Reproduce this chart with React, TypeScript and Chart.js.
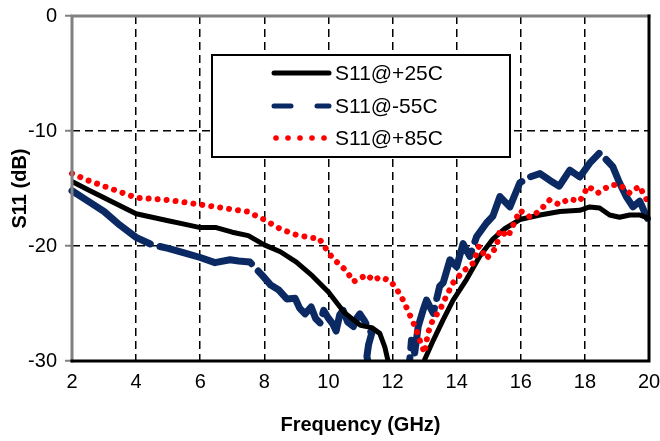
import React, { useEffect, useRef } from 'react';
import { Chart, registerables } from 'chart.js';

Chart.register(...registerables);

// ---- data ----
const seriesLabels = ['S11@+25C', 'S11@-55C', 'S11@+85C'];
const xTickStep = 2;
const yTickStep = 10;
const xRange = [2, 20];
const yRange = [-30, 0];
const xTitle = 'Frequency (GHz)';
const yTitle = 'S11 (dB)';

const freq25 = [2, 2.5, 3, 3.5, 4, 4.5, 5, 5.5, 6, 6.5, 7, 7.5, 8, 8.5, 9, 9.5, 10, 10.5, 11, 11.35, 11.6, 11.76, 11.86, 12.0, 12.9, 13.0, 13.27, 13.58, 13.89, 14.31, 14.72, 15.13, 15.5, 15.97, 16.6, 17.22, 17.84, 18.15, 18.46, 18.77, 19.08, 19.4, 19.7, 20];
const s11At25 = [-14.4, -15.1, -15.8, -16.5, -17.2, -17.5, -17.8, -18.1, -18.4, -18.4, -18.8, -19.1, -19.9, -20.5, -21.4, -22.6, -24.0, -25.8, -26.9, -27.1, -27.6, -28.8, -30.0, -32, -32, -29.9, -28.2, -26.4, -24.7, -22.9, -20.9, -19.4, -18.5, -17.7, -17.3, -17.0, -16.9, -16.6, -16.7, -17.3, -17.5, -17.3, -17.3, -17.6];

const freq55 = [2, 2.5, 3, 3.5, 4, 4.5, 5, 5.5, 6, 6.46, 6.93, 7.2, 7.55, 7.95, 8.2, 8.44, 8.7, 8.96, 9.1, 9.27, 9.46, 9.6, 9.74, 9.85, 9.98, 10.14, 10.24, 10.35, 10.46, 10.6, 10.78, 10.9, 10.98, 11.1, 11.35, 11.25, 11.2, 11.3, 12.5, 12.59, 12.69, 12.8, 12.95, 13.06, 13.27, 13.47, 13.58, 13.79, 14.0, 14.2, 14.41, 14.62, 14.93, 15.13, 15.35, 15.66, 15.97, 16.28, 16.6, 16.91, 17.2, 17.53, 17.84, 18.15, 18.46, 18.67, 18.87, 19.08, 19.29, 19.5, 19.71, 19.95];
const s11At55 = [-15.2, -16.1, -17.0, -18.2, -19.25, -19.9, -20.2, -20.6, -21.0, -21.45, -21.2, -21.3, -21.4, -22.6, -23.4, -23.8, -24.6, -24.55, -25.4, -25.9, -25.3, -26.3, -26.7, -25.6, -26.2, -26.8, -27.4, -26.0, -25.6, -26.6, -27.0, -26.2, -25.9, -26.4, -27.6, -28.6, -29.6, -31, -31, -28.2, -29.3, -27.0, -25.6, -24.7, -25.85, -23.5, -23.2, -21.2, -21.8, -19.8, -20.9, -19.2, -18.0, -17.4, -15.7, -16.6, -14.5, -14.0, -13.7, -14.3, -14.8, -13.4, -14.0, -12.8, -11.9, -12.5, -13.1, -14.5, -15.7, -16.6, -16.1, -17.6];

const freq85 = [2, 2.5, 3, 3.5, 4, 4.5, 5, 5.5, 6, 6.5, 6.96, 7.46, 7.99, 8.49, 8.96, 9.46, 9.7, 9.89, 10.14, 10.35, 10.57, 10.78, 11.0, 11.2, 11.4, 11.6, 11.92, 12.12, 12.33, 12.54, 12.7, 12.85, 13.0, 13.1, 13.26, 13.47, 13.67, 13.89, 14.2, 14.51, 14.7, 14.93, 15.24, 15.35, 15.6, 15.97, 16.3, 16.6, 16.9, 17.2, 17.5, 17.84, 18.1, 18.4, 18.8, 19.1, 19.4, 19.7, 19.95];
const s11At85 = [-13.7, -14.3, -14.8, -15.3, -15.8, -15.9, -16.0, -16.2, -16.4, -16.6, -16.8, -17.0, -17.7, -18.5, -19.0, -19.3, -19.3, -20.1, -21.1, -21.6, -22.2, -23.1, -22.8, -22.5, -23.0, -22.7, -23.0, -23.7, -24.7, -26.0, -27.0, -28.2, -29.3, -27.6, -26.4, -25.6, -24.4, -23.2, -22.2, -21.5, -20.0, -21.1, -20.1, -18.6, -19.2, -16.9, -17.5, -16.9, -16.0, -16.4, -15.9, -16.1, -14.8, -15.4, -14.7, -14.7, -15.4, -14.8, -16.1];

const FONT = '"Liberation Sans", Arial, sans-serif';
const BLACK = '#000000';
const NAVY = '#0b2a63';
const RED = '#ff0000';

const toPoints = (xs: number[], ys: number[]) => xs.map((x, i) => ({ x, y: ys[i] }));

const framePlugin = {
  id: 'frame',
  afterDatasetsDraw(chart: any) {
    const { ctx, chartArea } = chart;
    const { left, right, top, bottom } = chartArea;
    ctx.save();
    ctx.lineWidth = 3;
    ctx.lineCap = 'square';
    ctx.strokeStyle = '#808080';
    ctx.beginPath();
    ctx.moveTo(left, bottom);
    ctx.lineTo(left, top);
    ctx.lineTo(right, top);
    ctx.stroke();
    ctx.strokeStyle = BLACK;
    ctx.beginPath();
    ctx.moveTo(left, bottom);
    ctx.lineTo(right, bottom);
    ctx.lineTo(right, top);
    ctx.stroke();
    ctx.restore();
  },
};

const legendPlugin = {
  id: 'boxLegend',
  afterDraw(chart: any) {
    const { ctx, chartArea } = chart;
    const x0 = chartArea.left + 140;
    const y0 = chartArea.top + 39;
    const w = 298;
    const h = 102;
    ctx.save();
    ctx.fillStyle = '#ffffff';
    ctx.fillRect(x0, y0, w, h);
    ctx.lineWidth = 2;
    ctx.strokeStyle = BLACK;
    ctx.strokeRect(x0, y0, w, h);
    const sx0 = x0 + 62;
    const sx1 = x0 + 117;
    const rows = [y0 + 18, y0 + 51, y0 + 83];
    ctx.lineCap = 'round';
    ctx.strokeStyle = BLACK;
    ctx.lineWidth = 5;
    ctx.beginPath();
    ctx.moveTo(sx0, rows[0]);
    ctx.lineTo(sx1, rows[0]);
    ctx.stroke();
    ctx.strokeStyle = NAVY;
    ctx.lineWidth = 5;
    ctx.setLineDash([17, 26]);
    ctx.beginPath();
    ctx.moveTo(sx0, rows[1]);
    ctx.lineTo(sx1, rows[1]);
    ctx.stroke();
    ctx.setLineDash([]);
    ctx.fillStyle = RED;
    for (let i = 0; i < 5; i++) {
      ctx.beginPath();
      ctx.arc(sx0 + 2 + i * 12, rows[2], 2.8, 0, Math.PI * 2);
      ctx.fill();
    }
    ctx.fillStyle = BLACK;
    ctx.font = `21px ${FONT}`;
    ctx.textBaseline = 'middle';
    ctx.textAlign = 'left';
    seriesLabels.forEach((t, i) => ctx.fillText(t, x0 + 123, rows[i] + 1));
    ctx.restore();
  },
};

export default function App() {
  const ref = useRef<HTMLCanvasElement>(null);
  useEffect(() => {
    if (!ref.current) return;
    const clip = { left: 4, top: 4, right: 4, bottom: 0 };
    const chart = new Chart(ref.current, {
      type: 'line',
      data: {
        datasets: [
          {
            label: seriesLabels[0],
            data: toPoints(freq25, s11At25),
            borderColor: BLACK,
            borderWidth: 5,
            pointRadius: 0,
            tension: 0,
            borderJoinStyle: 'round',
            order: 1,
            clip,
          } as any,
          {
            label: seriesLabels[1],
            data: toPoints(freq55, s11At55),
            borderColor: NAVY,
            borderWidth: 7,
            borderDash: [95, 10],
            borderCapStyle: 'round',
            borderJoinStyle: 'round',
            pointRadius: 0,
            tension: 0,
            order: 2,
            clip,
          } as any,
          {
            label: seriesLabels[2],
            data: toPoints(freq85, s11At85),
            borderColor: RED,
            borderWidth: 6,
            borderDash: [0.01, 9],
            borderCapStyle: 'round',
            pointRadius: 0,
            tension: 0,
            order: 0,
            clip,
          } as any,
        ],
      },
      options: {
        responsive: false,
        animation: false,
        devicePixelRatio: 1,
        layout: { padding: { top: 16, right: 11, left: 0, bottom: 0 } },
        plugins: { legend: { display: false }, tooltip: { enabled: false } },
        scales: {
          x: {
            type: 'linear',
            min: xRange[0],
            max: xRange[1],
            afterFit: (s: any) => { s.height = 80; s.paddingLeft = 0; s.paddingRight = 0; },
            ticks: { stepSize: xTickStep, color: BLACK, font: { size: 20, family: FONT }, padding: 9, maxRotation: 0 },
            grid: {
              color: (c: any) => (c.tick && (c.tick.value === xRange[0] || c.tick.value === xRange[1]) ? 'rgba(0,0,0,0)' : BLACK),
              lineWidth: 1.5,
              drawTicks: false,
            },
            border: { display: false, dash: [8, 5] },
            title: { display: true, text: xTitle, color: BLACK, font: { size: 20, weight: 'bold', family: FONT }, padding: { top: 0, bottom: 4 } },
          },
          y: {
            type: 'linear',
            min: yRange[0],
            max: yRange[1],
            afterFit: (s: any) => { s.width = 72; s.paddingTop = 0; s.paddingBottom = 0; },
            ticks: { stepSize: yTickStep, color: BLACK, font: { size: 20, family: FONT }, padding: 8 },
            grid: {
              color: (c: any) => (c.tick && (c.tick.value === yRange[0] || c.tick.value === yRange[1]) ? 'rgba(0,0,0,0)' : BLACK),
              lineWidth: 1.5,
              drawTicks: true,
              tickLength: 7,
              tickColor: '#808080',
              tickWidth: 2,
              tickBorderDash: [],
            },
            border: { display: false, dash: [8, 5] },
            title: { display: true, text: yTitle, color: BLACK, font: { size: 20, weight: 'bold', family: FONT }, padding: { top: 8, bottom: 0 } },
          },
        },
      } as any,
      plugins: [framePlugin, legendPlugin],
    });
    return () => chart.destroy();
  }, []);
  return (
    <div style={{ position: 'fixed', left: 0, top: 0, width: 660, height: 441, background: '#fff' }}>
      <canvas ref={ref} width={660} height={441} style={{ display: 'block' }} />
    </div>
  );
}
